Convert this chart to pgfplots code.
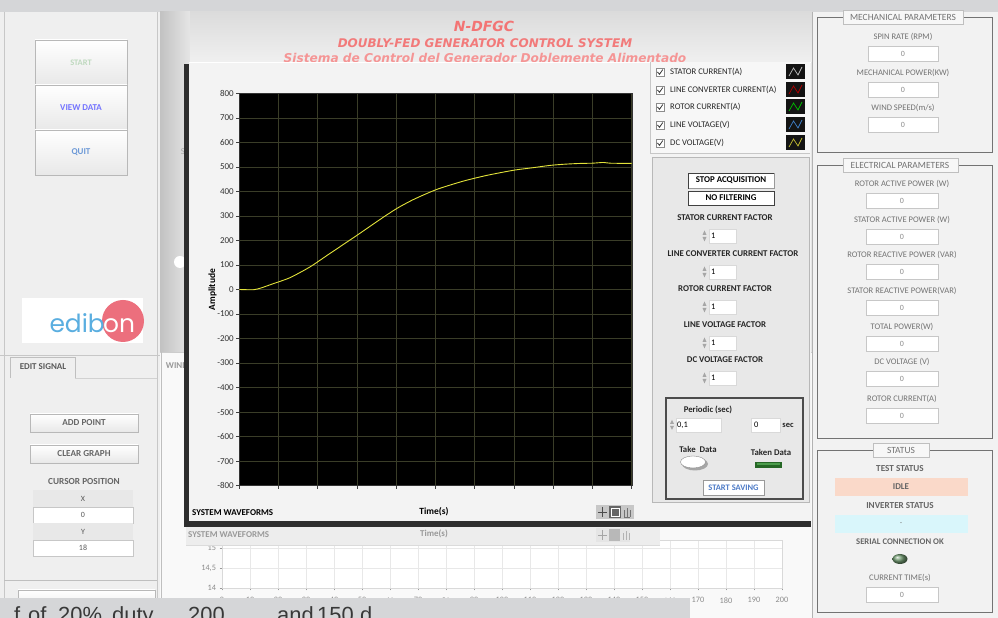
\documentclass[border=0pt]{standalone}
\usepackage{pgfplots}
\pgfplotsset{compat=1.18}
\usepackage{fontspec}
\setmainfont{Carlito}
\newfontfamily\titlefont{DejaVu Sans}
\newfontfamily\logofont{Poppins}
\newfontfamily\bigfont{Liberation Sans}
\newcommand\fs[1]{\fontsize{#1}{#1}\selectfont}
\definecolor{topgray}{HTML}{D5D6D8}
\definecolor{panel}{HTML}{EFEFEF}
\definecolor{winbg}{HTML}{F3F3F3}
\definecolor{gridc}{HTML}{3A3D28}
\definecolor{curve}{HTML}{E2E23A}
\definecolor{titlec}{HTML}{F27A7A}
\definecolor{logoblue}{HTML}{5AAEE0}
\definecolor{logopink}{HTML}{EC6F7D}
\definecolor{idle}{HTML}{FAD9C9}
\definecolor{cyanbox}{HTML}{D9F6FB}
\tikzset{
 btn/.style={draw=black!28, top color=white, bottom color=black!9},
 fld/.style={draw=black!22, fill=white},
 t/.style={inner sep=0pt, font=\fs{9}},
}
\begin{document}
\begin{tikzpicture}
\useasboundingbox (0,0) rectangle (998bp,618bp);
\clip (0,0) rectangle (998bp,618bp);
\begin{scope}[x=1bp,y=-1bp,yshift=618bp]
% ---------- backgrounds
\fill[panel] (0,0) rectangle (998,618);
\fill[topgray] (0,0) rectangle (998,12);
% left panel
\draw[black!22] (4,12)--(4,600);
\draw[black!22] (157,12)--(157,600);
\draw[btn] (35,40) rectangle (127,85) node[midway,t,font=\fs{8.5}\bfseries,text=green!40!black!25] {START};
\draw[btn] (35,85) rectangle (127,130) node[midway,t,font=\fs{9}\bfseries,text=blue!55!white] {VIEW DATA};
\draw[btn] (35,130) rectangle (127,175) node[midway,t,font=\fs{9}\bfseries,text=cyan!50!blue!60] {QUIT};
% logo
\fill[white] (22,298) rectangle (143,343);
\fill[logopink] (123,321) circle (21);
\node[anchor=base east,inner sep=0pt,text=logoblue,font=\logofont\fs{25}] at (105,333) {edib};
\node[anchor=base west,inner sep=0pt,text=white,font=\logofont\fs{25}] at (103,333) {on};
% edit signal tab
\draw[black!22] (0,355)--(160,355);
\draw[black!25] (10,378)--(10,357)--(75,357)--(75,378);
\draw[black!18] (75,378)--(157,378);
\node[t,font=\fs{9}\bfseries,text=black!65] at (43,367) {EDIT SIGNAL};
\draw[btn] (30,414) rectangle (138,432) node[midway,t,font=\fs{9.2}\bfseries,text=black!60] {ADD POINT};
\draw[btn] (30,445) rectangle (138,463) node[midway,t,font=\fs{9.2}\bfseries,text=black!60] {CLEAR GRAPH};
\node[t,font=\fs{9.3}\bfseries,text=black!60] at (84,482) {CURSOR POSITION};
\fill[black!9] (33,490) rectangle (133,507);
\draw[fld] (33,507) rectangle (133,523);
\fill[black!9] (33,523) rectangle (133,540);
\draw[fld] (33,540) rectangle (133,556);
\node[t,font=\fs{8},text=black!65] at (83,499) {X};
\node[t,font=\fs{8},text=black!65] at (83,515) {0};
\node[t,font=\fs{8},text=black!65] at (83,532) {Y};
\node[t,font=\fs{8},text=black!65] at (83,548) {18};
\draw[black!25] (4,580)--(157,580);
\draw[btn] (18,590) rectangle (155,612);
% center panel
\fill[black!10] (160,12) rectangle (812,352);
\shade[left color=black!24, right color=black!10] (160,12) rectangle (190,352);
\shade[top color=black!14, bottom color=black!6] (190,12) rectangle (812,62);
\fill[white!60!panel] (160,352) rectangle (812,618);
\draw[black!20] (160,352)--(812,352);
\draw[black!25] (161,352)--(161,618);
\node[t,font=\fs{9}\bfseries,text=black!40] at (177,366) {WIND};
\node[t,font=\fs{9},text=black!35] at (183,152) {S};
\fill[white] (180,262) circle (6);
% titles
\node[t,font=\titlefont\bfseries\itshape\fs{14},text=titlec!95!red] at (484,26) {N-DFGC};
\node[t,font=\titlefont\bfseries\itshape\fs{12},text=titlec] at (485,43) {DOUBLY-FED GENERATOR CONTROL SYSTEM};
\node[t,font=\titlefont\bfseries\itshape\fs{12.2},text=titlec!80!white] at (485,58) {Sistema de Control del Generador Doblemente Alimentado};
% ---------- window
\fill[black!82] (184,64) rectangle (811,527);
\fill[winbg] (189,62) rectangle (811,521);
\draw[white] (189,62)--(811,62);
% legend
\fill[black!3] (650,62) rectangle (810,153);
\draw[black!22] (650,62)--(650,153)--(810,153);
\foreach \yy/\nn/\cc in {72/STATOR CURRENT(A)/black!25, 90/LINE CONVERTER CURRENT(A)/red!70!black, 107/ROTOR CURRENT(A)/green!75!black, 125/LINE VOLTAGE(V)/cyan!50!blue!80, 143/DC VOLTAGE(V)/yellow!75!black}{
  \draw[black!45,fill=white] (656,\yy-4) rectangle (664,\yy+4);
  \draw[black!80,line width=0.8] (657.5,\yy) -- (659.5,\yy+2.3) -- (662.8,\yy-2.5);
  \node[anchor=west,t,font=\fs{8.7},text=black!85] at (670,\yy) {\nn};
  \fill[black!92] (786,\yy-8) rectangle (805,\yy+7);
  \draw[\cc,line width=0.7] (789,\yy+4) -- (793.5,\yy-4) -- (798,\yy+3) -- (802,\yy-5);
}
% controls
\fill[black!9] (652,157) rectangle (809,502);
\draw[black!28] (652,157) rectangle (809,502);
\draw[black!75,fill=white] (688,173) rectangle (774,188) node[midway,t,font=\fs{8.9}\bfseries,text=black] {STOP ACQUISITION};
\draw[black!40] (689,188.6)--(774.6,188.6)--(774.6,173.5);
\draw[black!75,fill=white] (688,191) rectangle (774,205) node[midway,t,font=\fs{8.9}\bfseries,text=black] {NO FILTERING};
\foreach \yy/\xx/\nn in {218/725/STATOR CURRENT FACTOR, 254/733/LINE CONVERTER CURRENT FACTOR, 289/725/ROTOR CURRENT FACTOR, 325/725/LINE VOLTAGE FACTOR, 360/725/DC VOLTAGE FACTOR}{
  \node[t,font=\fs{8.9}\bfseries,text=black!85] at (\xx,\yy) {\nn};
  \draw[fld,draw=black!15] (709,\yy+11) rectangle (736,\yy+25);
  \fill[black!35] (702.5,\yy+17) -- (704.5,\yy+12.5) -- (706.5,\yy+17) -- cycle;
  \fill[black!35] (702.5,\yy+19) -- (704.5,\yy+23.5) -- (706.5,\yy+19) -- cycle;
  \node[anchor=west,t,font=\fs{8.5},text=black] at (711,\yy+18) {1};
}
\draw[black!70,line width=1.3] (666,398) rectangle (803,499);
\node[t,font=\fs{8.8}\bfseries,text=black!85] at (708,410) {Periodic (sec)};
\draw[fld,draw=black!15] (676,418) rectangle (721,432);
\fill[black!35] (670,424) -- (672,420) -- (674,424) -- cycle;
\fill[black!35] (670,426) -- (672,430) -- (674,426) -- cycle;
\node[anchor=west,t,font=\fs{8.5},text=black] at (677,425) {0,1};
\draw[fld,draw=black!15] (751,418) rectangle (780,432);
\node[anchor=west,t,font=\fs{8.5},text=black] at (754,425) {0};
\node[t,font=\fs{8.5}\bfseries,text=black!85] at (788,425) {sec};
\node[t,font=\fs{8.8}\bfseries,text=black!85] at (698,449) {Take\ \ Data};
\fill[black!35] (695,464) ellipse (13 and 6.5);
\draw[black!45,fill=white] (693,462) ellipse (12.5 and 6);
\node[t,font=\fs{8.8}\bfseries,text=black!85] at (771,452) {Taken Data};
\fill[green!30!black!85] (755,462) rectangle (782,468);
\fill[green!45!black!70] (757,463) rectangle (780,465);
\draw[black!40,fill=white] (703,480) rectangle (764,495) node[midway,t,font=\fs{8.5}\bfseries,text=cyan!40!blue!75] {START SAVING};
% window bottom texts
\node[anchor=west,t,font=\fs{9}\bfseries,text=black] at (192,513) {SYSTEM WAVEFORMS};
\fill[black!22] (596,505) rectangle (634,519);
\draw[black!70,line width=0.8] (598,512)--(607,512) (602.5,507)--(602.5,517);
\fill[black!60] (609,506) rectangle (621,518);
\draw[white,line width=0.6] (611,508) rectangle (619,516);
\draw[black!55,line width=0.7] (624,517)--(624,510) (627,517)--(627,508) (630,517)--(630,510) (624,517)--(630,517);
% ---------- right panel
\fill[black!5] (812,12) rectangle (998,618);
\draw[black!30] (812,12)--(812,618);
\draw[black!55,line width=0.8] (817,17) rectangle (992,152);
\draw[black!25,fill=black!3] (843,10) rectangle (963,24);
\node[t,font=\fs{9.5},text=black!55] at (903,17) {MECHANICAL PARAMETERS};
\foreach \yy/\nn in {37/{SPIN RATE (RPM)}, 73/{MECHANICAL POWER(KW)}, 108/{WIND SPEED(m/s)}}{
  \node[t,font=\fs{8.6},text=black!55] at (903,\yy) {\nn};
  \draw[fld] (868,\yy+9) rectangle (938,\yy+24);
  \node[t,font=\fs{8},text=black!45] at (903,\yy+16.5) {0};
}
\draw[black!55,line width=0.8] (817,165) rectangle (992,438);
\draw[black!25,fill=black!3] (843,158) rectangle (958,172);
\node[t,font=\fs{9.5},text=black!55] at (900,165) {ELECTRICAL PARAMETERS};
\foreach \yy/\nn in {184/ROTOR ACTIVE POWER (W), 220/STATOR ACTIVE POWER (W), 255/ROTOR REACTIVE POWER (VAR), 291/STATOR REACTIVE POWER(VAR), 327/TOTAL POWER(W), 362/DC VOLTAGE (V), 399/ROTOR CURRENT(A)}{
  \node[t,font=\fs{8.6},text=black!55] at (902,\yy) {\nn};
  \draw[fld] (866,\yy+9) rectangle (938,\yy+24);
  \node[t,font=\fs{8},text=black!45] at (902,\yy+16.5) {0};
}
\draw[black!55,line width=0.8] (817,450) rectangle (992,612);
\draw[black!25,fill=black!3] (873,443) rectangle (929,457);
\node[t,font=\fs{9.5},text=black!55] at (901,450) {STATUS};
\node[t,font=\fs{9.2}\bfseries,text=black!60] at (900,469) {TEST STATUS};
\fill[idle] (835,478) rectangle (968,496);
\node[t,font=\fs{9}\bfseries,text=black!60] at (901,487) {IDLE};
\node[t,font=\fs{9.2}\bfseries,text=black!60] at (900,506) {INVERTER STATUS};
\fill[cyanbox] (835,515) rectangle (968,533);
\node[t,font=\fs{8},text=black!50] at (901,524) {-};
\node[t,font=\fs{8.7}\bfseries,text=black!60] at (900,542) {SERIAL CONNECTION OK};
\shade[ball color=green!30!black!55] (900,559) ellipse (7.5 and 5);
\node[t,font=\fs{8.6},text=black!55] at (900,578) {CURRENT TIME(s)};
\draw[fld] (866,587) rectangle (938,602);
\node[t,font=\fs{8},text=black!45] at (902,594.5) {0};
\end{scope}
% ---------- lower chart (behind)
\begin{axis}[at={(222bp,30bp)}, anchor=south west, scale only axis,
  width=560bp, height=48bp, xmin=0, xmax=200, ymin=14, ymax=15.2,
  xtick={0,10,...,200}, ytick={14,14.5,15},
  grid=major, major grid style={black!9},
  axis line style={black!15}, tick style={black!40}, tick align=outside,
  major tick length=2.5bp, xtick pos=bottom, ytick pos=left,
  ticklabel style={font=\fs{8.3}, text=black!45},
  xticklabel style={yshift=-3.5bp},
  /pgf/number format/use comma, /pgf/number format/assume math mode=true,
  axis background/.style={fill=white}]
\addplot[draw=none] coordinates {(0,14)};
\end{axis}
\begin{scope}[x=1bp,y=-1bp,yshift=618bp]
\fill[black!7] (186,527) rectangle (660,545);
\draw[black!14] (186,545)--(660,545);
\node[anchor=west,inner sep=0pt,font=\fs{9}\bfseries,text=black!40] at (188,535) {SYSTEM WAVEFORMS};
\node[inner sep=0pt,font=\fs{9}\bfseries,text=black!40] at (434,534) {Time(s)};
\fill[black!10] (596,528) rectangle (630,542);
\draw[black!35,line width=0.7] (598,535)--(607,535) (602.5,530)--(602.5,540);
\fill[black!28] (609,529) rectangle (620,541);
\draw[black!30,line width=0.6] (623,540)--(623,533) (626,540)--(626,531) (629,540)--(629,533);
% bottom overlay
\fill[topgray] (0,598) rectangle (690,618);
\foreach \xx/\ww in {14/f, 28/of, 58/20\%, 112/duty, 188/200, 277/and, 317/150, 360/d}{
  \node[anchor=base west,inner sep=0pt,font=\bigfont\fs{22},text=black!78] at (\xx,623) {\ww};
}
\end{scope}
% ---------- main chart
\begin{axis}[at={(239.3bp,524.7bp)}, anchor=north west, scale only axis,
  width=392.4bp, height=392.4bp,
  xmin=0, xmax=10, ymin=-800, ymax=800,
  xtick={0,1,...,10}, xticklabels={},
  ytick={-800,-700,...,800},
  grid=major, major grid style={gridc, line width=0.6bp},
  axis background/.style={fill=black},
  axis line style={black!80},
  tick align=outside, major tick length=3bp, tick style={black!75, line width=0.6bp},
  xtick pos=bottom, ytick pos=left,
  yticklabel style={font=\fs{9}, text=black!80, xshift=1bp},
  /pgf/number format/assume math mode=true,
  ylabel={Amplitude}, xlabel={Time(s)},
  every axis y label/.style={at={(axis description cs:-0.068,0.5)}, rotate=90, anchor=center, font=\fs{9.5}\bfseries},
  every axis x label/.style={at={(axis description cs:0.496,-0.065)}, anchor=center, font=\fs{9.5}\bfseries},
  clip=true]
\addplot[curve, line width=0.9bp, smooth, tension=0.4] coordinates {
 (0,0) (0.36,-1) (0.55,6) (0.87,24) (1.29,48) (1.8,92) (2.31,147) (2.99,220)
 (3.59,286) (4.01,330) (4.44,367) (5.03,408) (5.71,442) (6.30,465) (6.98,486)
 (7.5,497) (7.92,506) (8.3,511) (8.68,514) (9.0,515) (9.28,518) (9.45,515) (10,514)};
\end{axis}
\end{tikzpicture}
\end{document}
